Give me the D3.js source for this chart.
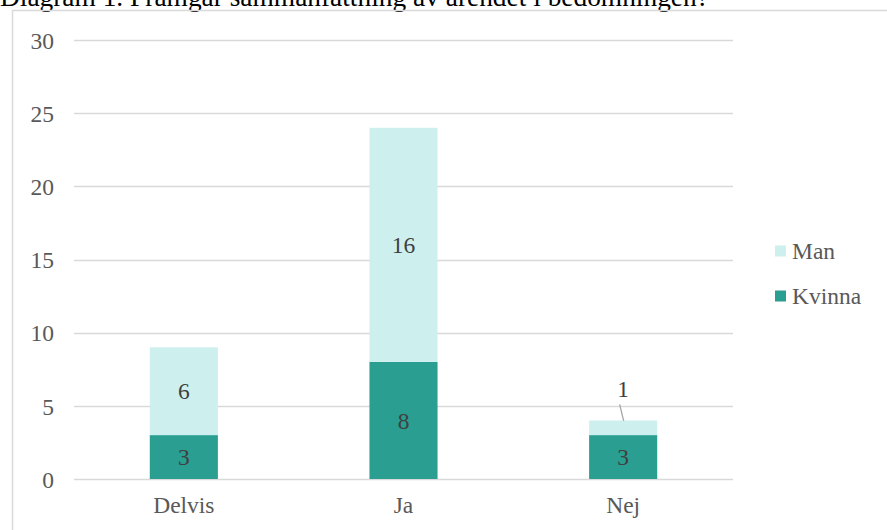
<!DOCTYPE html>
<html><head><meta charset="utf-8">
<script src="https://cdn.jsdelivr.net/npm/d3@7"></script>
<style>body{margin:0;background:#fff;}svg{display:block;}</style>
</head><body><svg id="c" width="887" height="530"></svg>
<script>
const title = "Diagram 1. Framgår sammanfattning av ärendet i bedömningen?";
const categories = ["Delvis", "Ja", "Nej"];
const seriesNames = ["Kvinna", "Man"];
const kvinna = [3, 8, 3];
const man = [6, 16, 1];
const yTicks = [0, 5, 10, 15, 20, 25, 30];
const colors = {Kvinna: "#299e91", Man: "#cdf0ee"};

const svg = d3.select("#c");
const font = "'Liberation Serif','Times New Roman',serif";
const fs = 23.5;

svg.append("text").attr("x", 0).attr("y", 6).attr("font-family", font)
  .attr("font-size", 27.4).attr("fill", "#000").text(title);

svg.append("rect").attr("x", 12.5).attr("y", 10.5).attr("width", 900).attr("height", 600)
  .attr("fill", "none").attr("stroke", "#d9d9d9").attr("stroke-width", 1.5);

const x = d3.scaleBand().domain(categories).range([74, 733]).paddingInner(0.69).paddingOuter(0.345);
const y = d3.scaleLinear().domain([0, 30]).range([479, 40]);

const g = svg.append("g");
g.selectAll("line.grid").data(yTicks).join("line").attr("class", "grid")
  .attr("x1", 74).attr("x2", 733).attr("y1", d => Math.round(y(d)) + 0.5).attr("y2", d => Math.round(y(d)) + 0.5)
  .attr("stroke", "#d9d9d9").attr("stroke-width", 1.3);

const yAxis = d3.axisLeft(y).tickValues(yTicks).tickSize(0).tickPadding(0);
const ya = svg.append("g").attr("transform", "translate(54,0)").call(yAxis);
ya.select(".domain").remove();
ya.selectAll("text").attr("font-family", font).attr("font-size", fs).attr("fill", "#595959").attr("dy", "0.35em");

const xAxis = d3.axisBottom(x).tickSize(0).tickPadding(0);
const xa = svg.append("g").attr("transform", "translate(0,496)").call(xAxis);
xa.select(".domain").remove();
xa.selectAll("text").attr("font-family", font).attr("font-size", fs).attr("fill", "#595959").attr("dy", "0.71em");

const data = categories.map((c, i) => ({cat: c, Kvinna: kvinna[i], Man: man[i]}));
const stack = d3.stack().keys(seriesNames)(data);

stack.forEach(layer => {
  g.selectAll(null).data(layer).join("rect")
    .attr("x", d => x(d.data.cat)).attr("width", x.bandwidth())
    .attr("y", d => y(d[1])).attr("height", d => y(d[0]) - y(d[1]))
    .attr("fill", colors[layer.key]);
});

stack.forEach(layer => {
  layer.forEach(d => {
    const v = d[1] - d[0];
    const cx = x(d.data.cat) + x.bandwidth() / 2;
    let cy = (y(d[0]) + y(d[1])) / 2;
    if (y(d[0]) - y(d[1]) < 20) {
      cy = y(d[1]) - 32;
      g.append("line").attr("x1", cx - 3.5).attr("y1", cy + 16).attr("x2", cx + 0.5).attr("y2", y(d[1]) + 0.5)
        .attr("stroke", "#a6a6a6").attr("stroke-width", 1.3);
    }
    g.append("text").attr("x", cx).attr("y", cy).attr("dy", "0.35em").attr("text-anchor", "middle")
      .attr("font-family", font).attr("font-size", fs).attr("fill", "#404040").text(v);
  });
});

const legendItems = ["Man", "Kvinna"];
const leg = svg.append("g");
legendItems.forEach((k, i) => {
  const ly = 251 + i * 45;
  leg.append("rect").attr("x", 775).attr("y", ly - 5.5).attr("width", 11).attr("height", 11).attr("fill", colors[k]);
  leg.append("text").attr("x", 792).attr("y", ly).attr("dy", "0.35em").attr("font-family", font)
    .attr("font-size", fs).attr("fill", "#595959").text(k);
});
</script></body></html>
